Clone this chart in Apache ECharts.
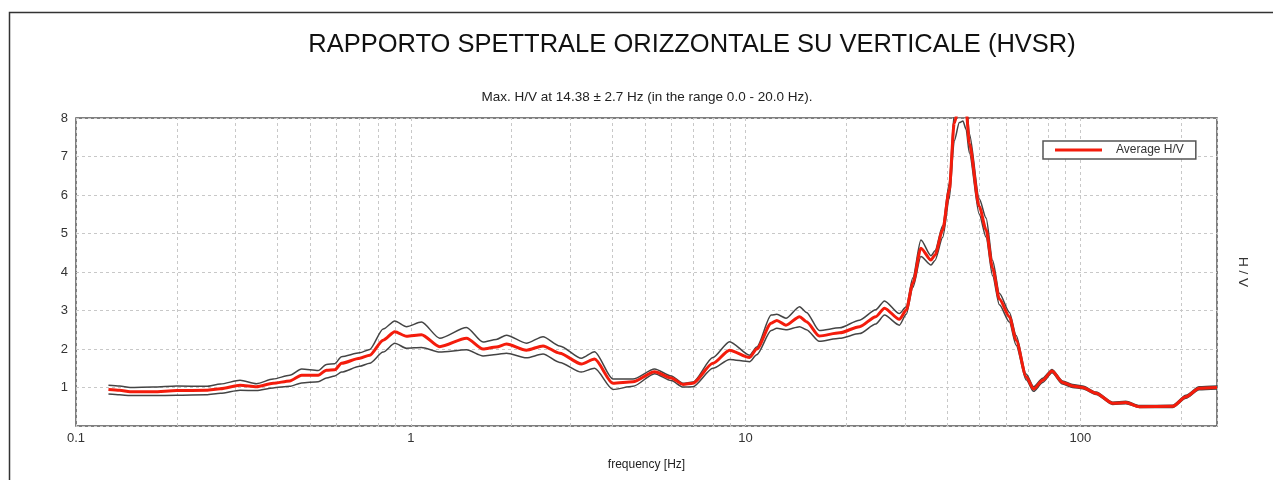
<!DOCTYPE html>
<html>
<head>
    <meta charset="UTF-8">
    <title>HVSR</title>
    <script src="https://cdn.jsdelivr.net/npm/echarts@6/dist/echarts.min.js"></script>
    <style>
        html, body { margin: 0; padding: 0; background: #fff; }
    </style>
</head>
<body>
<div id="hvsr" style="width: 1273px;height:480px;"></div>

<script type="text/javascript">
    // frequenze [Hz] e rapporto H/V (media e curve +/- deviazione)
    var freq = [0.125, 0.135, 0.145, 0.17, 0.20, 0.245, 0.27, 0.309, 0.346, 0.388,
        0.435, 0.472, 0.529, 0.56, 0.593, 0.621, 0.704, 0.754, 0.827, 0.896,
        0.971, 1.076, 1.22, 1.467, 1.644, 1.80, 1.931, 2.215, 2.483, 2.785,
        3.233, 3.54, 4.016, 4.61, 5.35, 6.0, 6.5, 6.96, 7.99, 8.96,
        10.28, 10.8, 11.93, 12.4, 13.2, 14.5, 15.2, 16.6, 19.1, 21.9,
        24.5, 26.0, 28.8, 30.2, 31.6, 33.4, 35.8, 36.8, 38.8, 40.6,
        42.0, 43.5, 44.6, 45.6, 46.6, 49.9, 52.3, 54.7, 57.3, 61.4, 64.3,
        68.9, 72.5, 77.2, 82.3, 88.5, 94.8, 101.6, 111.4, 124.9, 136.8,
        150, 188.6, 206.8, 226.5, 256];
    var avgHV = [0.95, 0.93, 0.89, 0.89, 0.92, 0.93, 0.97, 1.06, 1.02, 1.11,
        1.17, 1.32, 1.32, 1.45, 1.46, 1.63, 1.76, 1.84, 2.23, 2.45,
        2.33, 2.37, 2.06, 2.28, 2.00, 2.05, 2.13, 1.97, 2.08, 1.89,
        1.61, 1.74, 1.11, 1.15, 1.41, 1.25, 1.08, 1.11, 1.63, 1.97,
        1.78, 2.00, 2.67, 2.74, 2.62, 2.84, 2.71, 2.34, 2.42, 2.58,
        2.84, 3.06, 2.77, 3.01, 3.71, 4.62, 4.31, 4.44, 5.09, 6.13,
        7.86, 8.35, 8.40, 8.20, 7.34, 5.70, 5.10, 4.10, 3.30, 2.84, 2.23,
        1.28, 0.96, 1.19, 1.43, 1.13, 1.04, 1.00, 0.85, 0.59, 0.61,
        0.50, 0.51, 0.76, 0.98, 1.00];
    var upperHV = [1.06, 1.04, 1.00, 1.01, 1.04, 1.03, 1.09, 1.19, 1.10, 1.22,
        1.32, 1.48, 1.44, 1.60, 1.62, 1.80, 1.90, 1.99, 2.52, 2.73,
        2.58, 2.70, 2.28, 2.56, 2.18, 2.25, 2.36, 2.15, 2.32, 2.08,
        1.76, 1.93, 1.22, 1.22, 1.48, 1.30, 1.11, 1.14, 1.78, 2.19,
        1.84, 2.05, 2.88, 2.90, 2.80, 3.10, 2.95, 2.48, 2.55, 2.75,
        3.02, 3.25, 2.92, 3.10, 3.85, 4.83, 4.42, 4.55, 5.20, 6.30,
        8.10, 8.60, 8.70, 8.50, 7.60, 5.90, 5.40, 4.30, 3.45, 2.95, 2.35,
        1.35, 1.02, 1.24, 1.47, 1.17, 1.08, 1.04, 0.88, 0.62, 0.64,
        0.53, 0.54, 0.80, 1.02, 1.04];
    var lowerHV = [0.83, 0.81, 0.79, 0.79, 0.80, 0.81, 0.85, 0.93, 0.92, 0.99,
        1.03, 1.12, 1.15, 1.25, 1.30, 1.40, 1.55, 1.63, 1.92, 2.15,
        2.02, 2.04, 1.92, 1.98, 1.82, 1.86, 1.89, 1.77, 1.87, 1.65,
        1.40, 1.50, 0.95, 1.03, 1.36, 1.18, 1.01, 1.02, 1.50, 1.73,
        1.67, 1.85, 2.48, 2.54, 2.50, 2.58, 2.50, 2.20, 2.28, 2.40,
        2.65, 2.88, 2.62, 2.90, 3.60, 4.40, 4.18, 4.30, 4.90, 5.90,
        7.40, 7.88, 7.92, 7.70, 7.10, 5.50, 4.90, 3.90, 3.15, 2.70, 2.10,
        1.20, 0.90, 1.13, 1.38, 1.09, 1.00, 0.97, 0.82, 0.56, 0.58,
        0.48, 0.48, 0.72, 0.94, 0.96];
    var yTicks = [1, 2, 3, 4, 5, 6, 7, 8];

    function pairs(ys) {
        return freq.map(function (f, i) { return [f, ys[i]]; });
    }

    // griglia secondaria del asse logaritmico (2..9 per decade)
    var minorGrid = [];
    [0.1, 1, 10, 100].forEach(function (d) {
        for (var k = 2; k <= 9; k++) {
            if (k * d < 256) minorGrid.push({xAxis: +(k * d).toPrecision(3)});
        }
    });

    var font = 'Liberation Sans, Arial, sans-serif';
    var gridStyle = {color: '#c8c8c8', width: 1, type: [3, 3]};

    var chart = echarts.init(document.getElementById('hvsr'));

    var option = {
        animation: false,
        backgroundColor: '#fff',
        graphic: [
            {
                type: 'rect', silent: true, z: -1,
                shape: {x: 9.5, y: 12.5, width: 1300, height: 500},
                style: {fill: 'none', stroke: '#333', lineWidth: 1.5}
            },
            {
                type: 'text', x: 692, y: 45,
                style: {
                    text: 'RAPPORTO SPETTRALE ORIZZONTALE SU VERTICALE (HVSR)',
                    fill: '#111', font: '25.5px ' + font,
                    textAlign: 'center', textVerticalAlign: 'middle'
                }
            },
            {
                type: 'text', x: 647, y: 97,
                style: {
                    text: 'Max. H/V at 14.38 \u00b1 2.7 Hz (in the range 0.0 - 20.0 Hz).',
                    fill: '#222', font: '13.5px ' + font,
                    textAlign: 'center', textVerticalAlign: 'middle'
                }
            }
        ],
        grid: {
            left: 76, top: 118, right: 56, bottom: 54,
            show: true, borderColor: '#555', borderWidth: 1.5, backgroundColor: '#fff'
        },
        legend: {
            data: ['Average H/V'],
            left: 1043, top: 141,
            padding: [3, 12, 3, 12],
            borderColor: '#555', borderWidth: 1.5,
            backgroundColor: '#fff',
            icon: 'rect', itemWidth: 47, itemHeight: 3,
            textStyle: {fontFamily: font, fontSize: 12, color: '#333', padding: [0, 0, 0, 9]}
        },
        xAxis: {
            type: 'log', logBase: 10,
            min: 0.1, max: 256,
            name: 'frequency [Hz]', nameLocation: 'middle', nameGap: 33,
            nameTextStyle: {fontFamily: font, fontSize: 12, color: '#222'},
            axisLine: {show: false},
            axisTick: {show: false},
            axisLabel: {
                fontFamily: font, fontSize: 13, color: '#333', margin: 6,
                showMaxLabel: false,
                formatter: function (v) { return String(+(+v).toPrecision(6)); }
            },
            splitLine: {show: true, lineStyle: gridStyle}
        },
        yAxis: [
            {
                type: 'value', min: 0, max: 8, interval: 1,
                axisLine: {show: false},
                axisTick: {show: false},
                axisLabel: {
                    fontFamily: font, fontSize: 13, color: '#333', margin: 8,
                    formatter: function (v) { return yTicks.indexOf(v) >= 0 ? String(v) : ''; }
                },
                splitLine: {show: true, lineStyle: gridStyle}
            },
            {
                type: 'value', min: 0, max: 8, position: 'right',
                name: 'H / V', nameLocation: 'middle', nameRotate: -90, nameGap: 19,
                nameTextStyle: {fontFamily: font, fontSize: 13.5, color: '#333'},
                axisLine: {show: false}, axisTick: {show: false},
                axisLabel: {show: false}, splitLine: {show: false}
            }
        ],
        series: [
            {
                name: 'upper', type: 'line', data: pairs(upperHV),
                showSymbol: false, smooth: 0.25, smoothMonotone: 'x',
                lineStyle: {color: '#444', width: 1.5},
                markLine: {
                    silent: true, symbol: 'none', label: {show: false},
                    lineStyle: gridStyle, z: 1,
                    data: minorGrid
                }
            },
            {
                name: 'lower', type: 'line', data: pairs(lowerHV),
                showSymbol: false, smooth: 0.25, smoothMonotone: 'x',
                lineStyle: {color: '#444', width: 1.5}
            },
            {
                name: 'Average H/V', type: 'line', data: pairs(avgHV),
                showSymbol: false, smooth: 0.25, smoothMonotone: 'x',
                itemStyle: {color: '#f41c0c'},
                lineStyle: {color: '#f41c0c', width: 3}
            }
        ]
    };

    chart.setOption(option);
</script>
</body>
</html>
